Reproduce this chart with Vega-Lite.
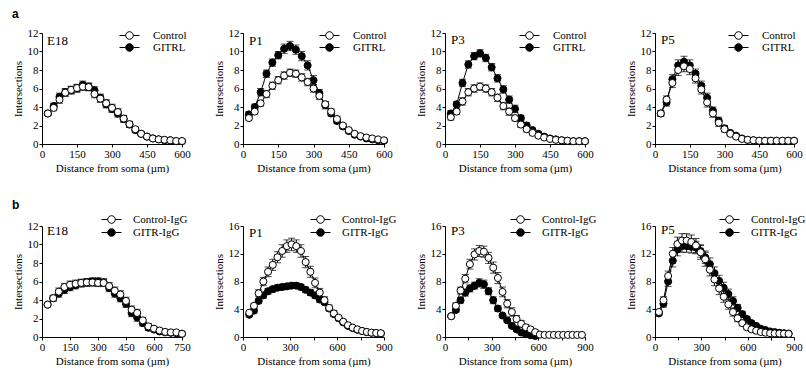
{
"$schema": "https://vega.github.io/schema/vega-lite/v6.json",
"padding": {"left": 12, "top": 8, "right": 2, "bottom": 2},
"spacing": 26,
"resolve": {"scale": {"fill": "independent"}, "legend": {"fill": "independent"}},
"config": {
  "view": {"stroke": null},
  "font": "Liberation Serif",
  "axis": {"domainColor": "black", "tickColor": "black", "labelColor": "black", "titleColor": "black", "grid": false, "labelFont": "Liberation Serif", "titleFont": "Liberation Serif", "labelFontSize": 11, "titleFontSize": 11, "titleFontWeight": "normal", "tickSize": 3, "labelPadding": 1, "labelFlush": false, "labelOverlap": false},
  "axisX": {"titlePadding": 3},
  "axisY": {"titlePadding": 4},
  "legend": {"orient": "none", "title": null, "labelFont": "Liberation Serif", "labelFontSize": 11, "labelColor": "black", "symbolType": "M-2.5,0L-0.95,0M0.95,0L2.5,0M0.95,0A0.95,0.95,0,1,1,-0.95,0A0.95,0.95,0,1,1,0.95,0Z", "symbolSize": 64, "symbolStrokeColor": "black", "symbolStrokeWidth": 1, "labelOffset": 18, "rowPadding": -3, "padding": 0},
  "title": {"anchor": "start", "frame": "group", "font": "Liberation Serif", "fontSize": 13, "fontWeight": "normal", "color": "black", "offset": 0}
},
"datasets": {"d": [
{"p":"a1","g":"GITRL","x":25,"y":3.3,"e":0.2},{"p":"a1","g":"GITRL","x":50,"y":4.1,"e":0.3},{"p":"a1","g":"GITRL","x":75,"y":5.1,"e":0.4},{"p":"a1","g":"GITRL","x":100,"y":5.6,"e":0.4},{"p":"a1","g":"GITRL","x":125,"y":5.8,"e":0.4},{"p":"a1","g":"GITRL","x":150,"y":6.0,"e":0.4},{"p":"a1","g":"GITRL","x":175,"y":6.4,"e":0.4},{"p":"a1","g":"GITRL","x":200,"y":6.2,"e":0.4},{"p":"a1","g":"GITRL","x":225,"y":5.8,"e":0.4},{"p":"a1","g":"GITRL","x":250,"y":5.0,"e":0.4},{"p":"a1","g":"GITRL","x":275,"y":4.3,"e":0.4},{"p":"a1","g":"GITRL","x":300,"y":3.8,"e":0.4},{"p":"a1","g":"GITRL","x":325,"y":3.3,"e":0.4},{"p":"a1","g":"GITRL","x":350,"y":2.7,"e":0.35},{"p":"a1","g":"GITRL","x":375,"y":2.1,"e":0.3},{"p":"a1","g":"GITRL","x":400,"y":1.5,"e":0.25},{"p":"a1","g":"GITRL","x":425,"y":1.1,"e":0.2},{"p":"a1","g":"GITRL","x":450,"y":0.8,"e":0.15},{"p":"a1","g":"GITRL","x":475,"y":0.6,"e":0.1},{"p":"a1","g":"GITRL","x":500,"y":0.5,"e":0.1},{"p":"a1","g":"GITRL","x":525,"y":0.4,"e":0.1},{"p":"a1","g":"GITRL","x":550,"y":0.4,"e":0.1},{"p":"a1","g":"GITRL","x":575,"y":0.3,"e":0.05},{"p":"a1","g":"GITRL","x":600,"y":0.3,"e":0.05},
{"p":"a1","g":"Control","x":25,"y":3.3,"e":0.2},{"p":"a1","g":"Control","x":50,"y":3.9,"e":0.3},{"p":"a1","g":"Control","x":75,"y":4.8,"e":0.4},{"p":"a1","g":"Control","x":100,"y":5.55,"e":0.4},{"p":"a1","g":"Control","x":125,"y":5.85,"e":0.4},{"p":"a1","g":"Control","x":150,"y":6.05,"e":0.4},{"p":"a1","g":"Control","x":175,"y":6.2,"e":0.4},{"p":"a1","g":"Control","x":200,"y":6.15,"e":0.4},{"p":"a1","g":"Control","x":225,"y":5.4,"e":0.4},{"p":"a1","g":"Control","x":250,"y":4.9,"e":0.4},{"p":"a1","g":"Control","x":275,"y":4.4,"e":0.4},{"p":"a1","g":"Control","x":300,"y":3.9,"e":0.4},{"p":"a1","g":"Control","x":325,"y":3.45,"e":0.4},{"p":"a1","g":"Control","x":350,"y":2.75,"e":0.35},{"p":"a1","g":"Control","x":375,"y":2.15,"e":0.3},{"p":"a1","g":"Control","x":400,"y":1.6,"e":0.25},{"p":"a1","g":"Control","x":425,"y":1.1,"e":0.2},{"p":"a1","g":"Control","x":450,"y":0.8,"e":0.15},{"p":"a1","g":"Control","x":475,"y":0.6,"e":0.1},{"p":"a1","g":"Control","x":500,"y":0.5,"e":0.1},{"p":"a1","g":"Control","x":525,"y":0.45,"e":0.1},{"p":"a1","g":"Control","x":550,"y":0.4,"e":0.1},{"p":"a1","g":"Control","x":575,"y":0.32,"e":0.05},{"p":"a1","g":"Control","x":600,"y":0.32,"e":0.05},
{"p":"a2","g":"GITRL","x":25,"y":3.2,"e":0.3},{"p":"a2","g":"GITRL","x":50,"y":4.0,"e":0.3},{"p":"a2","g":"GITRL","x":75,"y":5.6,"e":0.4},{"p":"a2","g":"GITRL","x":100,"y":7.6,"e":0.4},{"p":"a2","g":"GITRL","x":125,"y":8.8,"e":0.4},{"p":"a2","g":"GITRL","x":150,"y":9.6,"e":0.4},{"p":"a2","g":"GITRL","x":175,"y":10.3,"e":0.5},{"p":"a2","g":"GITRL","x":200,"y":10.6,"e":0.5},{"p":"a2","g":"GITRL","x":225,"y":10.2,"e":0.5},{"p":"a2","g":"GITRL","x":250,"y":9.5,"e":0.5},{"p":"a2","g":"GITRL","x":275,"y":8.5,"e":0.5},{"p":"a2","g":"GITRL","x":300,"y":6.9,"e":0.5},{"p":"a2","g":"GITRL","x":325,"y":5.5,"e":0.4},{"p":"a2","g":"GITRL","x":350,"y":4.2,"e":0.4},{"p":"a2","g":"GITRL","x":375,"y":3.3,"e":0.3},{"p":"a2","g":"GITRL","x":400,"y":2.5,"e":0.3},{"p":"a2","g":"GITRL","x":425,"y":1.9,"e":0.2},{"p":"a2","g":"GITRL","x":450,"y":1.4,"e":0.2},{"p":"a2","g":"GITRL","x":475,"y":1.0,"e":0.15},{"p":"a2","g":"GITRL","x":500,"y":0.8,"e":0.1},{"p":"a2","g":"GITRL","x":525,"y":0.6,"e":0.1},{"p":"a2","g":"GITRL","x":550,"y":0.5,"e":0.1},{"p":"a2","g":"GITRL","x":575,"y":0.4,"e":0.1},{"p":"a2","g":"GITRL","x":600,"y":0.35,"e":0.1},
{"p":"a2","g":"Control","x":25,"y":2.8,"e":0.2},{"p":"a2","g":"Control","x":50,"y":3.5,"e":0.3},{"p":"a2","g":"Control","x":75,"y":4.4,"e":0.3},{"p":"a2","g":"Control","x":100,"y":5.4,"e":0.4},{"p":"a2","g":"Control","x":125,"y":6.3,"e":0.4},{"p":"a2","g":"Control","x":150,"y":6.9,"e":0.4},{"p":"a2","g":"Control","x":175,"y":7.4,"e":0.4},{"p":"a2","g":"Control","x":200,"y":7.7,"e":0.4},{"p":"a2","g":"Control","x":225,"y":7.6,"e":0.4},{"p":"a2","g":"Control","x":250,"y":7.2,"e":0.4},{"p":"a2","g":"Control","x":275,"y":6.7,"e":0.4},{"p":"a2","g":"Control","x":300,"y":6.0,"e":0.4},{"p":"a2","g":"Control","x":325,"y":5.2,"e":0.4},{"p":"a2","g":"Control","x":350,"y":4.3,"e":0.3},{"p":"a2","g":"Control","x":375,"y":3.5,"e":0.3},{"p":"a2","g":"Control","x":400,"y":2.7,"e":0.3},{"p":"a2","g":"Control","x":425,"y":2.0,"e":0.2},{"p":"a2","g":"Control","x":450,"y":1.5,"e":0.2},{"p":"a2","g":"Control","x":475,"y":1.1,"e":0.15},{"p":"a2","g":"Control","x":500,"y":0.85,"e":0.1},{"p":"a2","g":"Control","x":525,"y":0.7,"e":0.1},{"p":"a2","g":"Control","x":550,"y":0.6,"e":0.1},{"p":"a2","g":"Control","x":575,"y":0.5,"e":0.1},{"p":"a2","g":"Control","x":600,"y":0.4,"e":0.1},
{"p":"a3","g":"GITRL","x":25,"y":3.3,"e":0.3},{"p":"a3","g":"GITRL","x":50,"y":4.3,"e":0.3},{"p":"a3","g":"GITRL","x":75,"y":6.6,"e":0.4},{"p":"a3","g":"GITRL","x":100,"y":8.6,"e":0.4},{"p":"a3","g":"GITRL","x":125,"y":9.5,"e":0.4},{"p":"a3","g":"GITRL","x":150,"y":9.8,"e":0.4},{"p":"a3","g":"GITRL","x":175,"y":9.3,"e":0.4},{"p":"a3","g":"GITRL","x":200,"y":8.3,"e":0.4},{"p":"a3","g":"GITRL","x":225,"y":7.1,"e":0.4},{"p":"a3","g":"GITRL","x":250,"y":5.9,"e":0.4},{"p":"a3","g":"GITRL","x":275,"y":4.8,"e":0.4},{"p":"a3","g":"GITRL","x":300,"y":3.8,"e":0.4},{"p":"a3","g":"GITRL","x":325,"y":2.8,"e":0.3},{"p":"a3","g":"GITRL","x":350,"y":2.0,"e":0.3},{"p":"a3","g":"GITRL","x":375,"y":1.5,"e":0.2},{"p":"a3","g":"GITRL","x":400,"y":1.1,"e":0.2},{"p":"a3","g":"GITRL","x":425,"y":0.8,"e":0.15},{"p":"a3","g":"GITRL","x":450,"y":0.6,"e":0.1},{"p":"a3","g":"GITRL","x":475,"y":0.5,"e":0.1},{"p":"a3","g":"GITRL","x":500,"y":0.4,"e":0.1},{"p":"a3","g":"GITRL","x":525,"y":0.35,"e":0.05},{"p":"a3","g":"GITRL","x":550,"y":0.3,"e":0.05},{"p":"a3","g":"GITRL","x":575,"y":0.3,"e":0.05},{"p":"a3","g":"GITRL","x":600,"y":0.3,"e":0.05},
{"p":"a3","g":"Control","x":25,"y":2.9,"e":0.3},{"p":"a3","g":"Control","x":50,"y":3.5,"e":0.3},{"p":"a3","g":"Control","x":75,"y":4.6,"e":0.4},{"p":"a3","g":"Control","x":100,"y":5.6,"e":0.4},{"p":"a3","g":"Control","x":125,"y":6.0,"e":0.4},{"p":"a3","g":"Control","x":150,"y":6.2,"e":0.4},{"p":"a3","g":"Control","x":175,"y":6.0,"e":0.4},{"p":"a3","g":"Control","x":200,"y":5.6,"e":0.4},{"p":"a3","g":"Control","x":225,"y":5.0,"e":0.4},{"p":"a3","g":"Control","x":250,"y":4.1,"e":0.4},{"p":"a3","g":"Control","x":275,"y":3.5,"e":0.4},{"p":"a3","g":"Control","x":300,"y":2.8,"e":0.3},{"p":"a3","g":"Control","x":325,"y":2.1,"e":0.3},{"p":"a3","g":"Control","x":350,"y":1.6,"e":0.3},{"p":"a3","g":"Control","x":375,"y":1.2,"e":0.2},{"p":"a3","g":"Control","x":400,"y":0.9,"e":0.2},{"p":"a3","g":"Control","x":425,"y":0.7,"e":0.1},{"p":"a3","g":"Control","x":450,"y":0.55,"e":0.1},{"p":"a3","g":"Control","x":475,"y":0.45,"e":0.1},{"p":"a3","g":"Control","x":500,"y":0.4,"e":0.05},{"p":"a3","g":"Control","x":525,"y":0.35,"e":0.05},{"p":"a3","g":"Control","x":550,"y":0.3,"e":0.05},{"p":"a3","g":"Control","x":575,"y":0.3,"e":0.05},{"p":"a3","g":"Control","x":600,"y":0.3,"e":0.05},
{"p":"a4","g":"GITRL","x":25,"y":3.3,"e":0.3},{"p":"a4","g":"GITRL","x":50,"y":4.5,"e":0.4},{"p":"a4","g":"GITRL","x":75,"y":7.0,"e":0.5},{"p":"a4","g":"GITRL","x":100,"y":8.5,"e":0.6},{"p":"a4","g":"GITRL","x":125,"y":8.9,"e":0.6},{"p":"a4","g":"GITRL","x":150,"y":8.5,"e":0.6},{"p":"a4","g":"GITRL","x":175,"y":7.6,"e":0.5},{"p":"a4","g":"GITRL","x":200,"y":6.3,"e":0.5},{"p":"a4","g":"GITRL","x":225,"y":5.0,"e":0.5},{"p":"a4","g":"GITRL","x":250,"y":3.6,"e":0.4},{"p":"a4","g":"GITRL","x":275,"y":2.5,"e":0.4},{"p":"a4","g":"GITRL","x":300,"y":1.7,"e":0.3},{"p":"a4","g":"GITRL","x":325,"y":1.2,"e":0.2},{"p":"a4","g":"GITRL","x":350,"y":0.9,"e":0.15},{"p":"a4","g":"GITRL","x":375,"y":0.6,"e":0.1},{"p":"a4","g":"GITRL","x":400,"y":0.45,"e":0.1},{"p":"a4","g":"GITRL","x":425,"y":0.4,"e":0.05},{"p":"a4","g":"GITRL","x":450,"y":0.35,"e":0.05},{"p":"a4","g":"GITRL","x":475,"y":0.35,"e":0.05},{"p":"a4","g":"GITRL","x":500,"y":0.35,"e":0.05},{"p":"a4","g":"GITRL","x":525,"y":0.35,"e":0.05},{"p":"a4","g":"GITRL","x":550,"y":0.35,"e":0.05},{"p":"a4","g":"GITRL","x":575,"y":0.35,"e":0.05},{"p":"a4","g":"GITRL","x":600,"y":0.35,"e":0.05},
{"p":"a4","g":"Control","x":25,"y":3.3,"e":0.3},{"p":"a4","g":"Control","x":50,"y":4.8,"e":0.4},{"p":"a4","g":"Control","x":75,"y":6.6,"e":0.5},{"p":"a4","g":"Control","x":100,"y":8.0,"e":0.6},{"p":"a4","g":"Control","x":125,"y":8.4,"e":0.6},{"p":"a4","g":"Control","x":150,"y":8.1,"e":0.6},{"p":"a4","g":"Control","x":175,"y":7.1,"e":0.5},{"p":"a4","g":"Control","x":200,"y":5.9,"e":0.5},{"p":"a4","g":"Control","x":225,"y":4.5,"e":0.5},{"p":"a4","g":"Control","x":250,"y":3.3,"e":0.4},{"p":"a4","g":"Control","x":275,"y":2.3,"e":0.4},{"p":"a4","g":"Control","x":300,"y":1.6,"e":0.3},{"p":"a4","g":"Control","x":325,"y":1.1,"e":0.2},{"p":"a4","g":"Control","x":350,"y":0.8,"e":0.15},{"p":"a4","g":"Control","x":375,"y":0.55,"e":0.1},{"p":"a4","g":"Control","x":400,"y":0.45,"e":0.1},{"p":"a4","g":"Control","x":425,"y":0.4,"e":0.05},{"p":"a4","g":"Control","x":450,"y":0.35,"e":0.05},{"p":"a4","g":"Control","x":475,"y":0.35,"e":0.05},{"p":"a4","g":"Control","x":500,"y":0.35,"e":0.05},{"p":"a4","g":"Control","x":525,"y":0.35,"e":0.05},{"p":"a4","g":"Control","x":550,"y":0.35,"e":0.05},{"p":"a4","g":"Control","x":575,"y":0.35,"e":0.05},{"p":"a4","g":"Control","x":600,"y":0.35,"e":0.05},
{"p":"b1","g":"GITR-IgG","x":30,"y":3.5,"e":0.2},{"p":"b1","g":"GITR-IgG","x":60,"y":4.2,"e":0.3},{"p":"b1","g":"GITR-IgG","x":90,"y":4.7,"e":0.4},{"p":"b1","g":"GITR-IgG","x":120,"y":5.1,"e":0.4},{"p":"b1","g":"GITR-IgG","x":150,"y":5.4,"e":0.4},{"p":"b1","g":"GITR-IgG","x":180,"y":5.6,"e":0.4},{"p":"b1","g":"GITR-IgG","x":210,"y":5.8,"e":0.4},{"p":"b1","g":"GITR-IgG","x":240,"y":5.9,"e":0.4},{"p":"b1","g":"GITR-IgG","x":270,"y":6.0,"e":0.4},{"p":"b1","g":"GITR-IgG","x":300,"y":6.0,"e":0.4},{"p":"b1","g":"GITR-IgG","x":330,"y":5.9,"e":0.4},{"p":"b1","g":"GITR-IgG","x":360,"y":5.3,"e":0.4},{"p":"b1","g":"GITR-IgG","x":390,"y":4.7,"e":0.4},{"p":"b1","g":"GITR-IgG","x":420,"y":4.2,"e":0.4},{"p":"b1","g":"GITR-IgG","x":450,"y":3.6,"e":0.4},{"p":"b1","g":"GITR-IgG","x":480,"y":2.6,"e":0.4},{"p":"b1","g":"GITR-IgG","x":510,"y":2.1,"e":0.4},{"p":"b1","g":"GITR-IgG","x":540,"y":1.5,"e":0.3},{"p":"b1","g":"GITR-IgG","x":570,"y":1.0,"e":0.3},{"p":"b1","g":"GITR-IgG","x":600,"y":0.8,"e":0.2},{"p":"b1","g":"GITR-IgG","x":630,"y":0.6,"e":0.15},{"p":"b1","g":"GITR-IgG","x":660,"y":0.5,"e":0.1},{"p":"b1","g":"GITR-IgG","x":690,"y":0.45,"e":0.1},{"p":"b1","g":"GITR-IgG","x":720,"y":0.4,"e":0.1},{"p":"b1","g":"GITR-IgG","x":750,"y":0.35,"e":0.05},
{"p":"b1","g":"Control-IgG","x":30,"y":3.5,"e":0.2},{"p":"b1","g":"Control-IgG","x":60,"y":4.2,"e":0.3},{"p":"b1","g":"Control-IgG","x":90,"y":4.9,"e":0.4},{"p":"b1","g":"Control-IgG","x":120,"y":5.4,"e":0.4},{"p":"b1","g":"Control-IgG","x":150,"y":5.65,"e":0.4},{"p":"b1","g":"Control-IgG","x":180,"y":5.75,"e":0.4},{"p":"b1","g":"Control-IgG","x":210,"y":5.85,"e":0.4},{"p":"b1","g":"Control-IgG","x":240,"y":5.9,"e":0.4},{"p":"b1","g":"Control-IgG","x":270,"y":5.9,"e":0.4},{"p":"b1","g":"Control-IgG","x":300,"y":5.85,"e":0.4},{"p":"b1","g":"Control-IgG","x":330,"y":5.85,"e":0.4},{"p":"b1","g":"Control-IgG","x":360,"y":5.5,"e":0.4},{"p":"b1","g":"Control-IgG","x":390,"y":5.0,"e":0.4},{"p":"b1","g":"Control-IgG","x":420,"y":4.6,"e":0.4},{"p":"b1","g":"Control-IgG","x":450,"y":3.9,"e":0.4},{"p":"b1","g":"Control-IgG","x":480,"y":2.95,"e":0.4},{"p":"b1","g":"Control-IgG","x":510,"y":2.6,"e":0.4},{"p":"b1","g":"Control-IgG","x":540,"y":1.8,"e":0.3},{"p":"b1","g":"Control-IgG","x":570,"y":1.15,"e":0.3},{"p":"b1","g":"Control-IgG","x":600,"y":0.9,"e":0.2},{"p":"b1","g":"Control-IgG","x":630,"y":0.7,"e":0.15},{"p":"b1","g":"Control-IgG","x":660,"y":0.55,"e":0.1},{"p":"b1","g":"Control-IgG","x":690,"y":0.5,"e":0.1},{"p":"b1","g":"Control-IgG","x":720,"y":0.5,"e":0.1},{"p":"b1","g":"Control-IgG","x":750,"y":0.35,"e":0.05},
{"p":"b2","g":"GITR-IgG","x":40,"y":3.2,"e":0.2},{"p":"b2","g":"GITR-IgG","x":70,"y":3.8,"e":0.3},{"p":"b2","g":"GITR-IgG","x":100,"y":5.2,"e":0.3},{"p":"b2","g":"GITR-IgG","x":130,"y":6.0,"e":0.4},{"p":"b2","g":"GITR-IgG","x":160,"y":6.6,"e":0.4},{"p":"b2","g":"GITR-IgG","x":190,"y":6.9,"e":0.4},{"p":"b2","g":"GITR-IgG","x":220,"y":7.1,"e":0.4},{"p":"b2","g":"GITR-IgG","x":250,"y":7.2,"e":0.4},{"p":"b2","g":"GITR-IgG","x":280,"y":7.3,"e":0.4},{"p":"b2","g":"GITR-IgG","x":310,"y":7.4,"e":0.4},{"p":"b2","g":"GITR-IgG","x":340,"y":7.4,"e":0.4},{"p":"b2","g":"GITR-IgG","x":370,"y":7.2,"e":0.4},{"p":"b2","g":"GITR-IgG","x":400,"y":6.8,"e":0.4},{"p":"b2","g":"GITR-IgG","x":430,"y":6.4,"e":0.4},{"p":"b2","g":"GITR-IgG","x":460,"y":6.0,"e":0.4},{"p":"b2","g":"GITR-IgG","x":490,"y":5.4,"e":0.4},{"p":"b2","g":"GITR-IgG","x":520,"y":5.0,"e":0.3},{"p":"b2","g":"GITR-IgG","x":550,"y":4.1,"e":0.3},{"p":"b2","g":"GITR-IgG","x":580,"y":3.3,"e":0.3},{"p":"b2","g":"GITR-IgG","x":610,"y":2.7,"e":0.2},{"p":"b2","g":"GITR-IgG","x":640,"y":2.1,"e":0.2},{"p":"b2","g":"GITR-IgG","x":670,"y":1.6,"e":0.2},{"p":"b2","g":"GITR-IgG","x":700,"y":1.3,"e":0.15},{"p":"b2","g":"GITR-IgG","x":730,"y":1.05,"e":0.1},{"p":"b2","g":"GITR-IgG","x":760,"y":0.85,"e":0.1},{"p":"b2","g":"GITR-IgG","x":790,"y":0.7,"e":0.1},{"p":"b2","g":"GITR-IgG","x":820,"y":0.6,"e":0.1},{"p":"b2","g":"GITR-IgG","x":850,"y":0.55,"e":0.1},{"p":"b2","g":"GITR-IgG","x":880,"y":0.5,"e":0.1},
{"p":"b2","g":"Control-IgG","x":40,"y":3.5,"e":0.2},{"p":"b2","g":"Control-IgG","x":70,"y":4.5,"e":0.3},{"p":"b2","g":"Control-IgG","x":100,"y":6.3,"e":0.5},{"p":"b2","g":"Control-IgG","x":130,"y":8.0,"e":0.6},{"p":"b2","g":"Control-IgG","x":160,"y":9.4,"e":0.7},{"p":"b2","g":"Control-IgG","x":190,"y":10.4,"e":0.8},{"p":"b2","g":"Control-IgG","x":220,"y":11.5,"e":0.8},{"p":"b2","g":"Control-IgG","x":250,"y":12.4,"e":0.9},{"p":"b2","g":"Control-IgG","x":280,"y":13.1,"e":0.9},{"p":"b2","g":"Control-IgG","x":310,"y":13.35,"e":0.9},{"p":"b2","g":"Control-IgG","x":340,"y":13.1,"e":0.9},{"p":"b2","g":"Control-IgG","x":370,"y":12.4,"e":0.9},{"p":"b2","g":"Control-IgG","x":400,"y":10.8,"e":0.8},{"p":"b2","g":"Control-IgG","x":430,"y":9.4,"e":0.8},{"p":"b2","g":"Control-IgG","x":460,"y":7.8,"e":0.7},{"p":"b2","g":"Control-IgG","x":490,"y":6.4,"e":0.6},{"p":"b2","g":"Control-IgG","x":520,"y":5.3,"e":0.5},{"p":"b2","g":"Control-IgG","x":550,"y":4.2,"e":0.4},{"p":"b2","g":"Control-IgG","x":580,"y":3.4,"e":0.4},{"p":"b2","g":"Control-IgG","x":610,"y":2.8,"e":0.3},{"p":"b2","g":"Control-IgG","x":640,"y":2.2,"e":0.3},{"p":"b2","g":"Control-IgG","x":670,"y":1.7,"e":0.2},{"p":"b2","g":"Control-IgG","x":700,"y":1.35,"e":0.2},{"p":"b2","g":"Control-IgG","x":730,"y":1.1,"e":0.15},{"p":"b2","g":"Control-IgG","x":760,"y":0.87,"e":0.1},{"p":"b2","g":"Control-IgG","x":790,"y":0.73,"e":0.1},{"p":"b2","g":"Control-IgG","x":820,"y":0.63,"e":0.1},{"p":"b2","g":"Control-IgG","x":850,"y":0.58,"e":0.1},{"p":"b2","g":"Control-IgG","x":880,"y":0.55,"e":0.1},
{"p":"b3","g":"GITR-IgG","x":40,"y":3.0,"e":0.2},{"p":"b3","g":"GITR-IgG","x":70,"y":3.9,"e":0.3},{"p":"b3","g":"GITR-IgG","x":100,"y":5.3,"e":0.4},{"p":"b3","g":"GITR-IgG","x":130,"y":6.4,"e":0.5},{"p":"b3","g":"GITR-IgG","x":160,"y":7.0,"e":0.5},{"p":"b3","g":"GITR-IgG","x":190,"y":7.4,"e":0.5},{"p":"b3","g":"GITR-IgG","x":220,"y":7.8,"e":0.6},{"p":"b3","g":"GITR-IgG","x":250,"y":7.6,"e":0.6},{"p":"b3","g":"GITR-IgG","x":280,"y":6.6,"e":0.5},{"p":"b3","g":"GITR-IgG","x":310,"y":5.3,"e":0.5},{"p":"b3","g":"GITR-IgG","x":340,"y":4.1,"e":0.4},{"p":"b3","g":"GITR-IgG","x":370,"y":3.1,"e":0.3},{"p":"b3","g":"GITR-IgG","x":400,"y":2.4,"e":0.3},{"p":"b3","g":"GITR-IgG","x":430,"y":1.6,"e":0.2},{"p":"b3","g":"GITR-IgG","x":460,"y":1.1,"e":0.2},{"p":"b3","g":"GITR-IgG","x":490,"y":0.65,"e":0.1},{"p":"b3","g":"GITR-IgG","x":520,"y":0.4,"e":0.1},{"p":"b3","g":"GITR-IgG","x":550,"y":0.25,"e":0.05},{"p":"b3","g":"GITR-IgG","x":580,"y":0.15,"e":0.05},
{"p":"b3","g":"Control-IgG","x":40,"y":3.0,"e":0.2},{"p":"b3","g":"Control-IgG","x":70,"y":4.5,"e":0.4},{"p":"b3","g":"Control-IgG","x":100,"y":6.7,"e":0.5},{"p":"b3","g":"Control-IgG","x":130,"y":8.4,"e":0.6},{"p":"b3","g":"Control-IgG","x":160,"y":10.5,"e":0.7},{"p":"b3","g":"Control-IgG","x":190,"y":11.9,"e":0.8},{"p":"b3","g":"Control-IgG","x":220,"y":12.4,"e":0.8},{"p":"b3","g":"Control-IgG","x":250,"y":12.3,"e":0.8},{"p":"b3","g":"Control-IgG","x":280,"y":11.4,"e":0.8},{"p":"b3","g":"Control-IgG","x":310,"y":10.0,"e":0.8},{"p":"b3","g":"Control-IgG","x":340,"y":8.5,"e":0.8},{"p":"b3","g":"Control-IgG","x":370,"y":6.5,"e":0.7},{"p":"b3","g":"Control-IgG","x":400,"y":4.8,"e":0.6},{"p":"b3","g":"Control-IgG","x":430,"y":3.6,"e":0.6},{"p":"b3","g":"Control-IgG","x":460,"y":2.6,"e":0.5},{"p":"b3","g":"Control-IgG","x":490,"y":1.9,"e":0.5},{"p":"b3","g":"Control-IgG","x":520,"y":1.4,"e":0.4},{"p":"b3","g":"Control-IgG","x":550,"y":1.1,"e":0.3},{"p":"b3","g":"Control-IgG","x":580,"y":0.7,"e":0.3},{"p":"b3","g":"Control-IgG","x":610,"y":0.35,"e":0.1},{"p":"b3","g":"Control-IgG","x":640,"y":0.3,"e":0.05},{"p":"b3","g":"Control-IgG","x":670,"y":0.3,"e":0.05},{"p":"b3","g":"Control-IgG","x":700,"y":0.3,"e":0.05},{"p":"b3","g":"Control-IgG","x":730,"y":0.3,"e":0.05},{"p":"b3","g":"Control-IgG","x":760,"y":0.3,"e":0.05},{"p":"b3","g":"Control-IgG","x":790,"y":0.3,"e":0.05},{"p":"b3","g":"Control-IgG","x":820,"y":0.3,"e":0.05},{"p":"b3","g":"Control-IgG","x":850,"y":0.3,"e":0.05},{"p":"b3","g":"Control-IgG","x":880,"y":0.3,"e":0.05},
{"p":"b4","g":"GITR-IgG","x":25,"y":3.4,"e":0.3},{"p":"b4","g":"GITR-IgG","x":55,"y":4.8,"e":0.5},{"p":"b4","g":"GITR-IgG","x":85,"y":8.0,"e":0.7},{"p":"b4","g":"GITR-IgG","x":115,"y":11.0,"e":0.9},{"p":"b4","g":"GITR-IgG","x":145,"y":12.6,"e":0.9},{"p":"b4","g":"GITR-IgG","x":175,"y":13.1,"e":0.9},{"p":"b4","g":"GITR-IgG","x":205,"y":13.1,"e":0.9},{"p":"b4","g":"GITR-IgG","x":235,"y":13.0,"e":0.9},{"p":"b4","g":"GITR-IgG","x":265,"y":12.9,"e":0.9},{"p":"b4","g":"GITR-IgG","x":295,"y":12.4,"e":0.9},{"p":"b4","g":"GITR-IgG","x":325,"y":11.5,"e":0.9},{"p":"b4","g":"GITR-IgG","x":355,"y":10.5,"e":0.9},{"p":"b4","g":"GITR-IgG","x":385,"y":9.2,"e":0.9},{"p":"b4","g":"GITR-IgG","x":415,"y":8.1,"e":0.8},{"p":"b4","g":"GITR-IgG","x":445,"y":7.1,"e":0.8},{"p":"b4","g":"GITR-IgG","x":475,"y":6.2,"e":0.7},{"p":"b4","g":"GITR-IgG","x":505,"y":5.2,"e":0.6},{"p":"b4","g":"GITR-IgG","x":535,"y":4.2,"e":0.5},{"p":"b4","g":"GITR-IgG","x":565,"y":3.3,"e":0.4},{"p":"b4","g":"GITR-IgG","x":595,"y":2.6,"e":0.3},{"p":"b4","g":"GITR-IgG","x":625,"y":2.0,"e":0.3},{"p":"b4","g":"GITR-IgG","x":655,"y":1.6,"e":0.2},{"p":"b4","g":"GITR-IgG","x":685,"y":1.2,"e":0.2},{"p":"b4","g":"GITR-IgG","x":715,"y":1.0,"e":0.15},{"p":"b4","g":"GITR-IgG","x":745,"y":0.8,"e":0.1},{"p":"b4","g":"GITR-IgG","x":775,"y":0.7,"e":0.1},{"p":"b4","g":"GITR-IgG","x":805,"y":0.6,"e":0.1},{"p":"b4","g":"GITR-IgG","x":835,"y":0.55,"e":0.1},{"p":"b4","g":"GITR-IgG","x":865,"y":0.5,"e":0.1},
{"p":"b4","g":"Control-IgG","x":25,"y":3.6,"e":0.3},{"p":"b4","g":"Control-IgG","x":55,"y":5.3,"e":0.5},{"p":"b4","g":"Control-IgG","x":85,"y":8.8,"e":0.7},{"p":"b4","g":"Control-IgG","x":115,"y":12.0,"e":0.9},{"p":"b4","g":"Control-IgG","x":145,"y":13.4,"e":1.0},{"p":"b4","g":"Control-IgG","x":175,"y":13.9,"e":1.0},{"p":"b4","g":"Control-IgG","x":205,"y":13.9,"e":1.0},{"p":"b4","g":"Control-IgG","x":235,"y":13.7,"e":1.0},{"p":"b4","g":"Control-IgG","x":265,"y":13.2,"e":1.0},{"p":"b4","g":"Control-IgG","x":295,"y":12.2,"e":1.0},{"p":"b4","g":"Control-IgG","x":325,"y":11.2,"e":1.0},{"p":"b4","g":"Control-IgG","x":355,"y":9.7,"e":0.9},{"p":"b4","g":"Control-IgG","x":385,"y":8.3,"e":0.9},{"p":"b4","g":"Control-IgG","x":415,"y":7.0,"e":0.9},{"p":"b4","g":"Control-IgG","x":445,"y":5.8,"e":0.8},{"p":"b4","g":"Control-IgG","x":475,"y":4.7,"e":0.7},{"p":"b4","g":"Control-IgG","x":505,"y":3.6,"e":0.6},{"p":"b4","g":"Control-IgG","x":535,"y":2.7,"e":0.5},{"p":"b4","g":"Control-IgG","x":565,"y":2.0,"e":0.4},{"p":"b4","g":"Control-IgG","x":595,"y":1.4,"e":0.3},{"p":"b4","g":"Control-IgG","x":625,"y":1.1,"e":0.3},{"p":"b4","g":"Control-IgG","x":655,"y":0.9,"e":0.2},{"p":"b4","g":"Control-IgG","x":685,"y":0.72,"e":0.2},{"p":"b4","g":"Control-IgG","x":715,"y":0.62,"e":0.15},{"p":"b4","g":"Control-IgG","x":745,"y":0.55,"e":0.1},{"p":"b4","g":"Control-IgG","x":775,"y":0.52,"e":0.1},{"p":"b4","g":"Control-IgG","x":805,"y":0.5,"e":0.1},{"p":"b4","g":"Control-IgG","x":835,"y":0.48,"e":0.1},{"p":"b4","g":"Control-IgG","x":865,"y":0.45,"e":0.1}
]},
"data": {"name": "d"},
"vconcat": [
 {
  "title": {"text": "a", "font": "Liberation Sans", "fontWeight": "bold", "fontSize": 12, "anchor": "start", "frame": "bounds", "offset": 6},
  "spacing": 31,
  "resolve": {"scale": {"fill": "independent"}, "legend": {"fill": "independent"}},
  "hconcat": [
   {
    "bounds": "flush", "spacing": 61,
    "resolve": {"scale": {"fill": "independent"}, "legend": {"fill": "independent"}},
    "hconcat": [
     {"width": 140, "height": 111, "title": {"text": "E18", "dx": 5, "dy": 25},
      "transform": [{"filter": "datum.p === 'a1'"}],
      "encoding": {"x": {"field": "x", "type": "quantitative", "scale": {"domain": [0, 600], "nice": false}, "axis": {"values": [0, 150, 300, 450, 600], "title": "Distance from soma (µm)"}},
                   "y": {"field": "y", "type": "quantitative", "scale": {"domain": [0, 12], "nice": false}, "axis": {"values": [0, 2, 4, 6, 8, 10, 12], "title": "Intersections"}}},
      "layer": [
       {"mark": {"type": "errorbar", "color": "black", "thickness": 1, "ticks": {"size": 7}}, "encoding": {"yError": {"field": "e"}}},
       {"mark": {"type": "line", "color": "black", "strokeWidth": 1}, "encoding": {"detail": {"field": "g"}}},
       {"mark": {"type": "point", "shape": "circle", "size": 50, "filled": true, "stroke": "black", "strokeWidth": 1, "opacity": 1}, "encoding": {"fill": {"field": "g", "type": "nominal", "scale": {"domain": ["Control", "GITRL"], "range": ["white", "black"]}, "legend": {"legendX": 82, "legendY": -3}}}}
      ]},
     {"width": 141, "height": 111, "title": {"text": "P1", "dx": 6, "dy": 25},
      "transform": [{"filter": "datum.p === 'a2'"}],
      "encoding": {"x": {"field": "x", "type": "quantitative", "scale": {"domain": [0, 600], "nice": false}, "axis": {"values": [0, 150, 300, 450, 600], "title": "Distance from soma (µm)"}},
                   "y": {"field": "y", "type": "quantitative", "scale": {"domain": [0, 12], "nice": false}, "axis": {"values": [0, 2, 4, 6, 8, 10, 12], "title": "Intersections"}}},
      "layer": [
       {"mark": {"type": "errorbar", "color": "black", "thickness": 1, "ticks": {"size": 7}}, "encoding": {"yError": {"field": "e"}}},
       {"mark": {"type": "line", "color": "black", "strokeWidth": 1}, "encoding": {"detail": {"field": "g"}}},
       {"mark": {"type": "point", "shape": "circle", "size": 50, "filled": true, "stroke": "black", "strokeWidth": 1, "opacity": 1}, "encoding": {"fill": {"field": "g", "type": "nominal", "scale": {"domain": ["Control", "GITRL"], "range": ["white", "black"]}, "legend": {"legendX": 81, "legendY": -3}}}}
      ]},
     {"width": 140, "height": 111, "title": {"text": "P3", "dx": 6, "dy": 24},
      "transform": [{"filter": "datum.p === 'a3'"}],
      "encoding": {"x": {"field": "x", "type": "quantitative", "scale": {"domain": [0, 600], "nice": false}, "axis": {"values": [0, 150, 300, 450, 600], "title": "Distance from soma (µm)"}},
                   "y": {"field": "y", "type": "quantitative", "scale": {"domain": [0, 12], "nice": false}, "axis": {"values": [0, 2, 4, 6, 8, 10, 12], "title": "Intersections"}}},
      "layer": [
       {"mark": {"type": "errorbar", "color": "black", "thickness": 1, "ticks": {"size": 7}}, "encoding": {"yError": {"field": "e"}}},
       {"mark": {"type": "line", "color": "black", "strokeWidth": 1}, "encoding": {"detail": {"field": "g"}}},
       {"mark": {"type": "point", "shape": "circle", "size": 50, "filled": true, "stroke": "black", "strokeWidth": 1, "opacity": 1}, "encoding": {"fill": {"field": "g", "type": "nominal", "scale": {"domain": ["Control", "GITRL"], "range": ["white", "black"]}, "legend": {"legendX": 79, "legendY": -3}}}}
      ]}
    ]
   },
   {"width": 139, "height": 111, "title": {"text": "P5", "dx": 6, "dy": 24},
    "transform": [{"filter": "datum.p === 'a4'"}],
    "encoding": {"x": {"field": "x", "type": "quantitative", "scale": {"domain": [0, 600], "nice": false}, "axis": {"values": [0, 150, 300, 450, 600], "title": "Distance from soma (µm)"}},
                 "y": {"field": "y", "type": "quantitative", "scale": {"domain": [0, 12], "nice": false}, "axis": {"values": [0, 2, 4, 6, 8, 10, 12], "title": "Intersections"}}},
    "layer": [
     {"mark": {"type": "errorbar", "color": "black", "thickness": 1, "ticks": {"size": 7}}, "encoding": {"yError": {"field": "e"}}},
     {"mark": {"type": "line", "color": "black", "strokeWidth": 1}, "encoding": {"detail": {"field": "g"}}},
     {"mark": {"type": "point", "shape": "circle", "size": 50, "filled": true, "stroke": "black", "strokeWidth": 1, "opacity": 1}, "encoding": {"fill": {"field": "g", "type": "nominal", "scale": {"domain": ["Control", "GITRL"], "range": ["white", "black"]}, "legend": {"legendX": 78, "legendY": -3}}}}
    ]}
  ]
 },
 {
  "title": {"text": "b", "font": "Liberation Sans", "fontWeight": "bold", "fontSize": 12, "anchor": "start", "frame": "bounds", "offset": 2},
  "spacing": 28,
  "resolve": {"scale": {"fill": "independent"}, "legend": {"fill": "independent"}},
  "hconcat": [
   {
    "bounds": "flush", "spacing": 61,
    "resolve": {"scale": {"fill": "independent"}, "legend": {"fill": "independent"}},
    "hconcat": [
     {"width": 140, "height": 111, "title": {"text": "E18", "dx": 5, "dy": 28},
      "transform": [{"filter": "datum.p === 'b1'"}],
      "encoding": {"x": {"field": "x", "type": "quantitative", "scale": {"domain": [0, 750], "nice": false}, "axis": {"values": [0, 150, 300, 450, 600, 750], "title": "Distance from soma (µm)"}},
                   "y": {"field": "y", "type": "quantitative", "scale": {"domain": [0, 12], "nice": false}, "axis": {"values": [0, 2, 4, 6, 8, 10, 12], "title": "Intersections"}}},
      "layer": [
       {"mark": {"type": "errorbar", "color": "black", "thickness": 1, "ticks": {"size": 7}}, "encoding": {"yError": {"field": "e"}}},
       {"mark": {"type": "line", "color": "black", "strokeWidth": 1}, "encoding": {"detail": {"field": "g"}}},
       {"mark": {"type": "point", "shape": "circle", "size": 50, "filled": true, "stroke": "black", "strokeWidth": 1, "opacity": 1}, "encoding": {"fill": {"field": "g", "type": "nominal", "scale": {"domain": ["Control-IgG", "GITR-IgG"], "range": ["white", "black"]}, "legend": {"legendX": 64, "legendY": -12, "labelOffset": 16, "rowPadding": 0}}}}
      ]},
     {"width": 141, "height": 111, "title": {"text": "P1", "dx": 6, "dy": 30},
      "transform": [{"filter": "datum.p === 'b2'"}],
      "encoding": {"x": {"field": "x", "type": "quantitative", "scale": {"domain": [0, 900], "nice": false}, "axis": {"values": [0, 150, 300, 450, 600, 750, 900], "labelExpr": "datum.value % 300 === 0 ? datum.label : ''", "title": "Distance from soma (µm)"}},
                   "y": {"field": "y", "type": "quantitative", "scale": {"domain": [0, 16], "nice": false}, "axis": {"values": [0, 4, 8, 12, 16], "title": "Intersections"}}},
      "layer": [
       {"mark": {"type": "errorbar", "color": "black", "thickness": 1, "ticks": {"size": 7}}, "encoding": {"yError": {"field": "e"}}},
       {"mark": {"type": "line", "color": "black", "strokeWidth": 1}, "encoding": {"detail": {"field": "g"}}},
       {"mark": {"type": "point", "shape": "circle", "size": 50, "filled": true, "stroke": "black", "strokeWidth": 1, "opacity": 1}, "encoding": {"fill": {"field": "g", "type": "nominal", "scale": {"domain": ["Control-IgG", "GITR-IgG"], "range": ["white", "black"]}, "legend": {"legendX": 72, "legendY": -12, "labelOffset": 16, "rowPadding": 0}}}}
      ]},
     {"width": 140, "height": 111, "title": {"text": "P3", "dx": 6, "dy": 28},
      "transform": [{"filter": "datum.p === 'b3'"}],
      "encoding": {"x": {"field": "x", "type": "quantitative", "scale": {"domain": [0, 900], "nice": false}, "axis": {"values": [0, 150, 300, 450, 600, 750, 900], "labelExpr": "datum.value % 300 === 0 ? datum.label : ''", "title": "Distance from soma (µm)"}},
                   "y": {"field": "y", "type": "quantitative", "scale": {"domain": [0, 16], "nice": false}, "axis": {"values": [0, 4, 8, 12, 16], "title": "Intersections"}}},
      "layer": [
       {"mark": {"type": "errorbar", "color": "black", "thickness": 1, "ticks": {"size": 7}}, "encoding": {"yError": {"field": "e"}}},
       {"mark": {"type": "line", "color": "black", "strokeWidth": 1}, "encoding": {"detail": {"field": "g"}}},
       {"mark": {"type": "point", "shape": "circle", "size": 50, "filled": true, "stroke": "black", "strokeWidth": 1, "opacity": 1}, "encoding": {"fill": {"field": "g", "type": "nominal", "scale": {"domain": ["Control-IgG", "GITR-IgG"], "range": ["white", "black"]}, "legend": {"legendX": 70, "legendY": -12, "labelOffset": 16, "rowPadding": 0}}}}
      ]}
    ]
   },
   {"width": 139, "height": 111, "title": {"text": "P5", "dx": 6, "dy": 27},
    "transform": [{"filter": "datum.p === 'b4'"}],
    "encoding": {"x": {"field": "x", "type": "quantitative", "scale": {"domain": [0, 900], "nice": false}, "axis": {"values": [0, 150, 300, 450, 600, 750, 900], "labelExpr": "datum.value % 300 === 0 ? datum.label : ''", "title": "Distance from soma (µm)"}},
                 "y": {"field": "y", "type": "quantitative", "scale": {"domain": [0, 16], "nice": false}, "axis": {"values": [0, 4, 8, 12, 16], "title": "Intersections"}}},
    "layer": [
     {"mark": {"type": "errorbar", "color": "black", "thickness": 1, "ticks": {"size": 7}}, "encoding": {"yError": {"field": "e"}}},
     {"mark": {"type": "line", "color": "black", "strokeWidth": 1}, "encoding": {"detail": {"field": "g"}}},
     {"mark": {"type": "point", "shape": "circle", "size": 50, "filled": true, "stroke": "black", "strokeWidth": 1, "opacity": 1}, "encoding": {"fill": {"field": "g", "type": "nominal", "scale": {"domain": ["Control-IgG", "GITR-IgG"], "range": ["white", "black"]}, "legend": {"legendX": 69, "legendY": -12, "labelOffset": 16, "rowPadding": 0}}}}
    ]}
  ]
 }
]
}
